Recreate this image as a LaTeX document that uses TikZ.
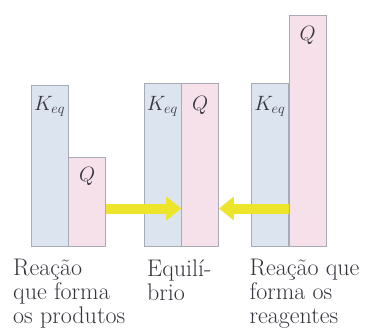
\documentclass[tikz,border=0pt]{standalone}
\usepackage{tikz}
\usetikzlibrary{arrows.meta}
\definecolor{keqblue}{HTML}{DCE4F0}
\definecolor{qpink}{HTML}{F6E1EA}
\definecolor{barline}{HTML}{A7ABB6}
\definecolor{shiftyellow}{HTML}{EDE52C}
\definecolor{ink}{HTML}{38343E}
\tikzset{
  keqbar/.style={draw=barline,fill=keqblue,line width=.7pt,inner sep=0pt,minimum width=37pt,anchor=south west},
  qbar/.style={keqbar,fill=qpink},
  barlabel/.style={anchor=north,inner sep=0pt,text=ink,font=\fontsize{20}{24}\selectfont},
  caption/.style={anchor=north west,inner sep=0pt,align=left,text=ink,font=\fontsize{24}{24}\selectfont},
  fatarrow/.style={draw=shiftyellow,line width=10pt,-{Triangle[width=23pt,length=15pt]}}
}

\begin{document}
\begin{tikzpicture}[x=1pt,y=-1pt]
  \useasboundingbox (0,0) rectangle (369,331);
  % bars
  \node[keqbar,minimum height=161pt] (kl) at (30.7,247) {};
  \node[qbar,minimum height=89pt] (ql) at (kl.south east) {};
  \node[keqbar,minimum height=163.5pt] (km) at (143.5,247) {};
  \node[qbar,minimum height=163.5pt] (qm) at (km.south east) {};
  \node[keqbar,minimum height=163pt] (kr) at (251,247) {};
  \node[qbar,minimum height=231pt] (qr) at (kr.south east) {};
  % labels in the bars
  \node[barlabel] (tkl) at ([yshift=-11pt]kl.north) {$K_{eq}$};
  \node[barlabel] (tql) at ([yshift=-10pt]ql.north) {$Q$};
  \node[barlabel] (tkm) at ([yshift=-13pt]km.north) {$K_{eq}$};
  \node[barlabel] (tqm) at ([yshift=-13pt]qm.north) {$Q$};
  \node[barlabel] (tkr) at ([yshift=-13pt]kr.north) {$K_{eq}$};
  \node[barlabel] (tqr) at ([yshift=-11pt]qr.north) {$Q$};
  % shifts towards equilibrium
  \coordinate (arrowy) at (0,208.5);
  \draw[fatarrow] (ql.east |- arrowy) -- (km.east |- arrowy);
  \draw[fatarrow] (kr.east |- arrowy) -- (qm.east |- arrowy);
  % captions
  \node[caption] (cl) at (13,259.3) {Reação\\que forma\\os produtos};
  \node[caption] (cm) at (147,259.3) {Equilí-\\brio};
  \node[caption] (cr) at (249.5,259.3) {Reação que\\forma os\\reagentes};
\end{tikzpicture}
\end{document}
